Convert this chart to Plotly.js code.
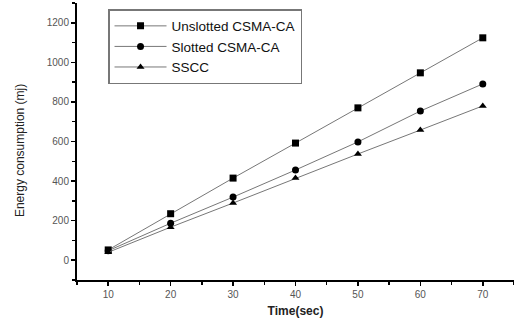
<!DOCTYPE html>
<html><head><meta charset="utf-8">
<script src="https://cdn.plot.ly/plotly-3.0.1.min.js"></script>
<style>html,body{margin:0;padding:0;background:#fff}#c{width:514px;height:323px}</style>
</head><body><div id="c"></div>
<script>
const time = [10, 20, 30, 40, 50, 60, 70];
const unslotted = [52, 235, 415, 592, 770, 947, 1124];
const slotted = [48, 187, 319, 456, 598, 754, 891];
const sscc = [40, 167, 289, 415, 537, 658, 780];
const names = ["Unslotted CSMA-CA", "Slotted CSMA-CA", "SSCC"];

const lineC = '#777';
const mk = (sym) => ({symbol: sym, size: 7, color: '#000'});
const traces = [
  {x: time, y: unslotted, name: names[0], mode: 'lines+markers', line: {color: lineC, width: 1}, marker: mk('square')},
  {x: time, y: slotted, name: names[1], mode: 'lines+markers', line: {color: lineC, width: 1}, marker: mk('circle')},
  {x: time, y: sscc, name: names[2], mode: 'lines+markers', line: {color: lineC, width: 1}, marker: mk('triangle-up')}
];
const layout = {
  width: 514, height: 323,
  margin: {l: 77, r: 0, t: 3, b: 43},
  paper_bgcolor: '#fff', plot_bgcolor: '#fff',
  font: {family: 'Liberation Sans, Arial, sans-serif', color: '#000'},
  showlegend: true,
  legend: {x: 0.071, y: 0.978, xanchor: 'left', yanchor: 'top', bordercolor: '#777', borderwidth: 1.5,
    bgcolor: '#fff', font: {size: 13.5, color: '#111'}, tracegroupgap: 0, itemwidth: 52},
  xaxis: {range: [5, 75], tickvals: time, ticks: 'outside', ticklen: 4, tickwidth: 1.5, tickcolor: '#000',
    showline: true, linecolor: '#000', linewidth: 2, showgrid: false, zeroline: false,
    minor: {ticks: 'outside', dtick: 5, tick0: 5, ticklen: 3, tickcolor: '#000', showgrid: false},
    tickfont: {size: 10, color: '#555'},
    title: {text: '<b>Time(sec)</b>', font: {size: 12, color: '#222'}, standoff: 8}},
  yaxis: {range: [-100, 1300], tickvals: [0, 200, 400, 600, 800, 1000, 1200], ticks: 'outside', ticklen: 4, tickwidth: 1.5, tickcolor: '#000',
    showline: true, linecolor: '#000', linewidth: 2, showgrid: false, zeroline: false,
    minor: {ticks: 'outside', dtick: 100, tick0: 0, ticklen: 3, tickcolor: '#000', showgrid: false},
    tickfont: {size: 10, color: '#555'}},
  annotations: [{text: 'Energy consumption (mj)', xref: 'paper', yref: 'paper', x: -0.130, y: 0.466,
    textangle: -90, showarrow: false, font: {size: 12, color: '#222'}, xanchor: 'center', yanchor: 'middle'}]
};
Plotly.newPlot('c', traces, layout, {displayModeBar: false, staticPlot: true});
</script></body></html>
